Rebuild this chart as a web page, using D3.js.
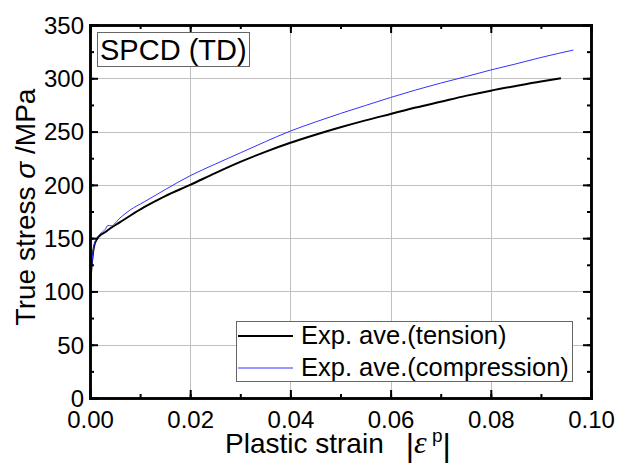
<!DOCTYPE html>
<html>
<head>
<meta charset="utf-8">
<script src="https://cdn.jsdelivr.net/npm/d3@7"></script>
<style>
  body { margin: 0; background: #fff; }
  svg { display: block; font-family: "Liberation Sans", Arial, sans-serif; }
</style>
</head>
<body>
<svg id="chart" width="627" height="463"></svg>
<script>
// values
const tensionStrain = [0, 0.0003, 0.0008, 0.0015, 0.002, 0.003, 0.004, 0.006, 0.008, 0.0108, 0.015, 0.02, 0.025, 0.03, 0.035, 0.04, 0.045, 0.05, 0.055, 0.06, 0.065, 0.07, 0.075, 0.08, 0.085, 0.09, 0.094];
const tensionStress = [105, 123, 142, 150, 152.5, 155.5, 159, 165, 171, 179, 189.5, 200, 211, 221.5, 231, 239.5, 247, 254, 260.5, 266.5, 272.5, 278, 283.5, 288.4, 292.8, 297, 300];

const compStrain = [0, 0.0003, 0.0008, 0.0015, 0.002, 0.003, 0.0036, 0.0042, 0.006, 0.008, 0.0108, 0.015, 0.02, 0.025, 0.03, 0.035, 0.04, 0.045, 0.05, 0.055, 0.06, 0.065, 0.07, 0.075, 0.08, 0.085, 0.09, 0.0965];
const compStress = [105, 123, 143, 151, 154, 158, 162, 161.5, 169, 176.4, 184, 195.5, 208.6, 219.5, 230, 240.5, 250.5, 259, 267, 274.5, 282, 289, 295.5, 301.5, 307.8, 313.5, 319.5, 326.5];

const xTicks = [0, 0.02, 0.04, 0.06, 0.08, 0.10];
const yTicks = [0, 50, 100, 150, 200, 250, 300, 350];
const seriesNames = ["Exp. ave.(tension)", "Exp. ave.(compression)"];
const seriesColors = ["#000000", "#3333ff"];

const svg = d3.select("#chart");
const margin = {left: 90, top: 25, right: 36, bottom: 65};
const W = 627, H = 463;

const x = d3.scaleLinear().domain([0, 0.10]).range([margin.left, W - margin.right]);
const y = d3.scaleLinear().domain([0, 350]).range([H - margin.bottom, margin.top]);

const x0 = x.range()[0], x1 = x.range()[1];
const y0 = y.range()[0], y1 = y.range()[1];

// grid
const grid = svg.append("g").attr("stroke", "#c0c0c0").attr("stroke-width", 1);
grid.selectAll(".gx").data(xTicks.slice(1, -1)).join("line")
  .attr("x1", d => Math.round(x(d)) + 0.5).attr("x2", d => Math.round(x(d)) + 0.5)
  .attr("y1", y1).attr("y2", y0);
grid.selectAll(".gy").data(yTicks.slice(1, -1)).join("line")
  .attr("y1", d => Math.round(y(d)) + 0.5).attr("y2", d => Math.round(y(d)) + 0.5)
  .attr("x1", x0).attr("x2", x1);

// curves
const line = d3.line().x(d => x(d[0])).y(d => y(d[1]));
svg.append("path")
  .datum(tensionStrain.map((s, i) => [s, tensionStress[i]]))
  .attr("fill", "none").attr("stroke", seriesColors[0]).attr("stroke-width", 2)
  .attr("d", line.curve(d3.curveMonotoneX));
svg.append("path")
  .datum(compStrain.map((s, i) => [s, compStress[i]]))
  .attr("fill", "none").attr("stroke", seriesColors[1]).attr("stroke-width", 1)
  .attr("d", line.curve(d3.curveMonotoneX));

// axes (ticks inside on all four sides)
const minorX = d3.range(0, 0.1001, 0.01);
const minorY = d3.range(0, 351, 25);
function fmtX(d) { return d3.format(".2f")(d); }

const axBottom = svg.append("g").attr("transform", `translate(0,${y0})`)
  .call(d3.axisBottom(x).tickValues(minorX).tickSize(-4).tickFormat(""));
axBottom.call(g => g.append("g").call(d3.axisBottom(x).tickValues(xTicks).tickSize(-8).tickPadding(13).tickFormat(fmtX)));
const axTop = svg.append("g").attr("transform", `translate(0,${y1})`)
  .call(d3.axisTop(x).tickValues(minorX).tickSize(-4).tickFormat(""));
axTop.call(g => g.append("g").call(d3.axisTop(x).tickValues(xTicks).tickSize(-8).tickFormat("")));
const axLeft = svg.append("g").attr("transform", `translate(${x0},0)`)
  .call(d3.axisLeft(y).tickValues(minorY).tickSize(-4).tickFormat(""));
axLeft.call(g => g.append("g").call(d3.axisLeft(y).tickValues(yTicks).tickSize(-8).tickPadding(6).tickFormat(d3.format("d"))));
const axRight = svg.append("g").attr("transform", `translate(${x1},0)`)
  .call(d3.axisRight(y).tickValues(minorY).tickSize(-4).tickFormat(""));
axRight.call(g => g.append("g").call(d3.axisRight(y).tickValues(yTicks).tickSize(-8).tickFormat("")));

svg.selectAll(".domain").attr("stroke", "#000").attr("stroke-width", 2.5);
svg.selectAll(".tick line").attr("stroke", "#000").attr("stroke-width", 2);
svg.selectAll(".tick text").attr("font-size", 24).attr("font-family", "Liberation Sans, Arial, sans-serif").attr("fill", "#000");
axLeft.selectAll(".tick text").attr("dy", "0.35em");

// axis titles
svg.append("text")
  .attr("transform", `translate(35,207) rotate(-90)`)
  .attr("text-anchor", "middle").attr("font-size", 28)
  .call(t => {
    t.append("tspan").text("True stress ");
    t.append("tspan").attr("font-style", "italic").text("σ");
    t.append("tspan").text(" /MPa");
  });

const xt = svg.append("text")
  .attr("x", 225).attr("y", 453)
  .attr("font-size", 28);
xt.append("tspan").text("Plastic strain");
xt.append("tspan").attr("font-size", 32).attr("dx", 22).attr("dy", 3).text("|");
xt.append("tspan").attr("font-family", "Liberation Serif, serif").attr("font-style", "italic").attr("font-size", 32).attr("dy", -3).text("ε");
xt.append("tspan").attr("font-size", 19).attr("dy", -11).text(" p");
xt.append("tspan").attr("font-size", 32).attr("dy", 14).text("|");

// title box
const title = svg.append("g");
title.append("rect").attr("x", 97.5).attr("y", 32.5).attr("width", 152).attr("height", 34)
  .attr("fill", "#fff").attr("stroke", "#666").attr("stroke-width", 1);
title.append("text").attr("x", 100).attr("y", 60).attr("font-size", 29).text("SPCD (TD)");

// legend
const legend = svg.append("g");
legend.append("rect").attr("x", 236.5).attr("y", 321.5).attr("width", 336).attr("height", 60)
  .attr("fill", "#fff").attr("stroke", "#666").attr("stroke-width", 1);
seriesNames.forEach((name, i) => {
  const ly = 336 + i * 32;
  legend.append("line").attr("x1", 238).attr("x2", 293).attr("y1", ly).attr("y2", ly)
    .attr("stroke", seriesColors[i]).attr("stroke-width", i === 0 ? 2 : 1);
  legend.append("text").attr("x", 301).attr("y", ly + 8).attr("font-size", 25.5).text(name);
});
</script>
</body>
</html>
